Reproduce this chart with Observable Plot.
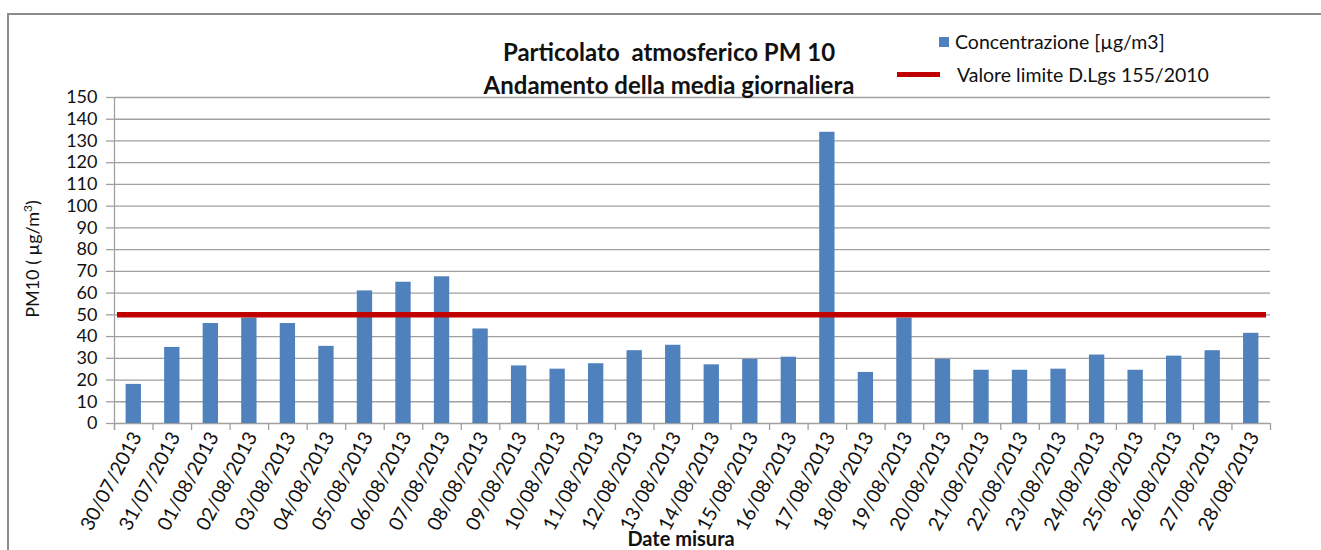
<!DOCTYPE html>
<html>
<head>
<meta charset="utf-8">
<script src="https://cdn.jsdelivr.net/npm/d3@7"></script>
<script src="https://cdn.jsdelivr.net/npm/@observablehq/plot@0.6"></script>
<style>
  html, body { margin: 0; padding: 0; background: #fff; }
  #wrap { position: relative; width: 1321px; height: 550px; overflow: hidden; font-family: Lato, "Open Sans", sans-serif; color: #111; }
  #frame { position: absolute; left: 7px; top: 13px; width: 1400px; height: 600px; border-top: 2px solid #8c8c8c; border-left: 2px solid #8c8c8c; }
  #chart { position: absolute; left: 0; top: 0; }
  .title { position: absolute; left: 669px; transform: translateX(-50%); font-weight: bold; font-size: 24px; line-height: 24px; white-space: nowrap; }
  .leg { position: absolute; font-size: 19.5px; line-height: 20px; white-space: nowrap; }
  .sw { position: absolute; }
  #ylab { position: absolute; left: 30px; top: 259px; transform: translate(-50%, -50%) rotate(-90deg); font-size: 18px; line-height: 20px; white-space: nowrap; }
  #xlab { position: absolute; left: 681px; top: 528px; transform: translateX(-50%); font-size: 20px; line-height: 20px; font-weight: bold; white-space: nowrap; }
</style>
</head>
<body>
<div id="wrap">
  <div id="frame"></div>
  <div id="chart"></div>
  <div class="title" style="top:40px">Particolato&nbsp; atmosferico PM 10</div>
  <div class="title" style="top:73px">Andamento della media giornaliera</div>
  <div class="sw" style="left:939px; top:37px; width:10px; height:10px; background:#4f81bd"></div>
  <div class="leg" style="left:955px; top:32px">Concentrazione [µg/m3]</div>
  <div class="sw" style="left:897px; top:72px; width:43px; height:5px; background:#c00000"></div>
  <div class="leg" style="left:957px; top:65px">Valore limite D.Lgs 155/2010</div>
  <div id="ylab">PM10 ( µg/m<sup style="font-size:12px">3</sup>)</div>
  <div id="xlab">Date misura</div>
</div>
<script>
const dates = ["30/07/2013","31/07/2013","01/08/2013","02/08/2013","03/08/2013","04/08/2013","05/08/2013","06/08/2013","07/08/2013","08/08/2013","09/08/2013","10/08/2013","11/08/2013","12/08/2013","13/08/2013","14/08/2013","15/08/2013","16/08/2013","17/08/2013","18/08/2013","19/08/2013","20/08/2013","21/08/2013","22/08/2013","23/08/2013","24/08/2013","25/08/2013","26/08/2013","27/08/2013","28/08/2013"];
const concentrazione = [18,35,46,48.5,46,35.5,61,65,67.5,43.5,26.5,25,27.5,33.5,36,27,29.5,30.5,134,23.5,48.5,29.5,24.5,24.5,25,31.5,24.5,31,33.5,41.5];
const valoreLimite = 50;
const yTicks = [0,10,20,30,40,50,60,70,80,90,100,110,120,130,140,150];

const W = 1321, H = 550, mL = 114, mR = 51, mT = 97, mB = 127;
const bw = (W - mL - mR) / dates.length;
const pxPerUnit = (H - mT - mB) / 150;
const tickBelow = -7 / pxPerUnit;
const data = dates.map((d, i) => ({date: d, value: concentrazione[i]}));
const grid = "#a0a0a0";

const chart = Plot.plot({
  width: W, height: H,
  marginLeft: mL, marginRight: mR, marginTop: mT, marginBottom: mB,
  style: {fontFamily: "Lato, 'Open Sans', sans-serif", color: "#111", background: "transparent"},
  x: {type: "band", domain: dates, padding: 0, round: false},
  y: {domain: [0, 150]},
  marks: [
    Plot.ruleY(yTicks, {stroke: grid, strokeWidth: 1.3}),
    Plot.barY(data, {x: "date", y: "value", fill: "#4f81bd", insetLeft: 11.6, insetRight: 11.6}),
    Plot.ruleY([valoreLimite], {stroke: "#c00000", strokeWidth: 5.5, insetLeft: 3, insetRight: 4}),
    Plot.ruleX([dates[0]], {dx: -bw / 2, y1: tickBelow, y2: 150, stroke: grid, strokeWidth: 1.3}),
    Plot.ruleX(dates, {x: d => d, dx: -bw / 2, y1: tickBelow, y2: 0, stroke: grid, strokeWidth: 1.3}),
    Plot.ruleX([dates[dates.length - 1]], {dx: bw / 2, y1: tickBelow, y2: 0, stroke: grid, strokeWidth: 1.3}),
    Plot.axisY({ticks: yTicks, tickSize: 8, tickPadding: 9, fontSize: 18, label: null, stroke: grid, strokeOpacity: 1, strokeWidth: 1.3}),
    Plot.axisX({tickSize: 0, tickRotate: -62, tickPadding: 10, fontSize: 19.5, label: null, dx: 3})
  ]
});
document.getElementById("chart").appendChild(chart);
</script>
</body>
</html>
